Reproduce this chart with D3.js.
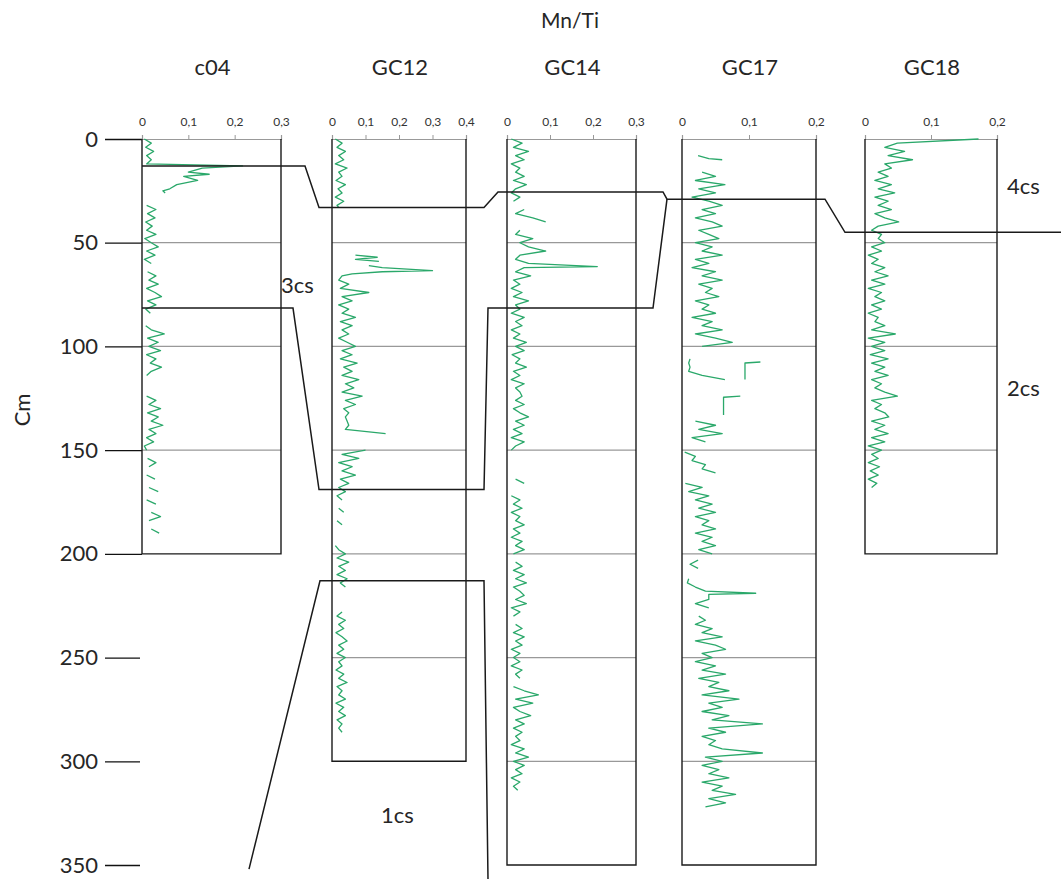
<!DOCTYPE html>
<html><head><meta charset="utf-8">
<script src="https://cdn.jsdelivr.net/npm/d3@7/dist/d3.min.js"></script>
<style>body{margin:0;background:#fff;}svg{display:block;font-family:Lato,"Open Sans",sans-serif;}</style>
</head><body><svg id="c" width="1061" height="879"></svg>
<script>
// ---------------- DATA ----------------
const cores = ["c04", "GC12", "GC14", "GC17", "GC18"];
const coreMaxX = [0.3, 0.4, 0.3, 0.2, 0.2];
const coreDepth = [200, 300, 350, 350, 200];
const coreTicks = [[0,0.1,0.2,0.3],[0,0.1,0.2,0.3,0.4],[0,0.1,0.2,0.3],[0,0.1,0.2],[0,0.1,0.2]];
const depthTicks = [0, 50, 100, 150, 200, 250, 300, 350];

// [depth cm, Mn/Ti]; null value = gap
const c04 = [[0,.005],[2,.02],[4,.008],[6,.025],[8,.01],[10,.02],[12,.01],[13,.217],[14,.13],[16,.1],[17,.145],[18,.09],[20,.12],[22,.075],[24,.06],[25,.045],[26,.05],[27,null],
[32,.01],[34,.03],[36,.012],[38,.028],[40,.008],[42,.022],[44,.01],[46,.03],[48,.006],[50,.02],[52,.035],[54,.01],[56,.028],[58,.005],[60,.02],[62,null],
[64,.012],[66,.03],[68,.015],[70,.035],[72,.01],[74,.028],[76,.042],[78,.012],[80,.03],[82,.008],[84,.018],[85,null],
[90,.008],[92,.02],[94,.048],[96,.012],[98,.035],[100,.015],[102,.04],[104,.01],[106,.03],[108,.018],[110,.042],[112,.02],[114,.01],[115,null],
[124,.01],[126,.03],[128,.015],[130,.04],[132,.012],[134,.035],[136,.02],[138,.045],[140,.015],[142,.03],[144,.01],[146,.025],[148,.005],[150,.01],[151,null],
[154,.012],[156,.03],[158,.015],[159,null],[162,.01],[164,.028],[165,null],[168,.015],[170,.035],[171,null],[174,.01],[176,.03],[177,null],[180,.02],[182,.04],[184,.015],[185,null],[188,.02],[190,.037]];

const GC12 = [[0,.01],[2,.03],[4,.015],[6,.04],[8,.02],[10,.035],[12,.01],[14,.045],[16,.02],[18,.03],[20,.012],[22,.04],[24,.018],[26,.03],[28,.01],[30,.035],[32,.015],[33,.02],[34,null],
[56,.07],[57,.135],[58,.07],[59,.14],[60,null],
[61,.11],[62,.15],[63.5,.3],[64,.15],[65,.06],[66,.03],[68,.02],[70,.05],[72,.025],[74,.11],[76,.03],[78,.06],[80,.02],[82,.05],[84,.03],[86,.07],[88,.025],[90,.06],[92,.03],[94,.05],[96,.02],[98,.045],[100,.07],[102,.03],[104,.06],[106,.025],[108,.075],[110,.035],[112,.06],[114,.03],[116,.08],[118,.04],[120,.065],[122,.03],[124,.09],[126,.04],[128,.07],[130,.035],[132,.05],[134,.04],[136,.045],[138,.05],[140,.04],[142,.16],[143,null],
[150,.1],[152,.03],[154,.08],[156,.02],[158,.06],[160,.03],[162,.07],[164,.025],[166,.05],[168,.02],[170,.04],[172,.015],[174,.03],[175,null],[178,.02],[180,.035],[181,null],[184,.015],[186,.03],[187,null],
[196,.01],[198,.02],[200,.04],[202,.015],[204,.05],[206,.02],[208,.04],[210,.015],[212,.045],[214,.025],[216,.04],[217,null],
[228,.03],[230,.015],[232,.04],[234,.02],[236,.035],[238,.012],[240,.03],[242,.045],[244,.02],[246,.035],[248,.015],[250,.04],[252,.02],[254,.03],[256,.012],[258,.035],[260,.02],[262,.045],[264,.015],[266,.03],[268,.02],[270,.04],[272,.012],[274,.035],[276,.02],[278,.04],[280,.015],[282,.03],[284,.02],[286,.03]];

const GC14 = [[0,.01],[2,.035],[4,.015],[6,.05],[8,.02],[10,.04],[12,.01],[14,.03],[16,.02],[18,.04],[20,.015],[22,.045],[24,.02],[26,.01],[28,.03],[30,.015],[31,null],
[34,.04],[36,.02],[38,.06],[40,.09],[41,null],[44,.03],[46,.02],[48,.06],[50,.03],[52,.05],[54,.09],[56,.03],[58,.02],[60,.05],[61.5,.21],[62,.04],[64,.02],[66,.055],[68,.015],[70,.03],[72,.01],[74,.035],[76,.015],[78,.05],[80,.02],[82,.03],[84,.01],[86,.04],[88,.02],[90,.035],[92,.01],[94,.03],[96,.015],[98,.045],[100,.02],[102,.04],[104,.012],[106,.03],[108,.02],[110,.045],[112,.015],[114,.03],[116,.01],[118,.04],[120,.02],[122,.03],[124,.035],[126,.02],[128,.04],[130,.015],[132,.03],[134,.05],[136,.02],[138,.04],[140,.015],[142,.035],[144,.01],[146,.04],[148,.02],[150,.01],[151,null],
[164,.02],[166,.04],[167,null],[172,.01],[174,.03],[176,.015],[178,.035],[180,.01],[182,.03],[184,.02],[186,.04],[188,.015],[190,.03],[192,.01],[194,.035],[196,.02],[198,.04],[200,.015],[201,null],
[204,.02],[206,.035],[208,.015],[210,.04],[212,.02],[214,.045],[216,.015],[218,.03],[220,.04],[222,.02],[224,.045],[226,.01],[228,.03],[230,.015],[231,null],
[234,.02],[236,.035],[238,.015],[240,.04],[242,.02],[244,.035],[246,.01],[248,.03],[250,.015],[252,.03],[254,.01],[256,.035],[258,.02],[260,.03],[261,null],
[264,.015],[266,.04],[268,.073],[270,.02],[272,.06],[274,.015],[276,.03],[278,.055],[280,.02],[282,.04],[284,.015],[286,.035],[288,.02],[290,.03],[292,.01],[294,.04],[296,.02],[298,.05],[300,.015],[302,.04],[304,.02],[306,.035],[308,.01],[310,.03],[312,.015],[314,.025]];

const GC17 = [[8,.024],[9.5,.04],[10,.06],[11,null],
[16,.03],[18,.05],[20,.02],[22,.064],[24,.025],[26,.05],[28,.015],[30,.04],[32,.06],[34,.03],[36,.05],[38,.02],[40,.045],[42,.06],[44,.025],[46,.04],[48,.055],[50,.02],[52,.045],[54,.03],[56,.06],[58,.02],[60,.04],[62,.015],[64,.05],[66,.03],[68,.06],[70,.025],[72,.045],[74,.035],[76,.055],[78,.02],[80,.04],[82,.03],[84,.05],[86,.015],[88,.045],[90,.03],[92,.06],[94,.02],[96,.05],[98,.075],[100,.03],[101,null],
[106,.012],[108,.01],[110,.012],[112,.01],[114,.03],[116,.064],[117,null],
[107.5,.117],[108,.094],[116,.094],[117,null],
[124,.087],[124.5,.062],[133,.062],[134,null],
[136,.02],[138,.05],[140,.025],[142,.06],[144,.015],[146,.035],[147,null],
[151,.004],[153,.02],[155,.015],[157,.035],[159,.03],[161,.05],[162,null],
[166,.005],[168,.03],[170,.01],[172,.04],[174,.02],[176,.045],[178,.025],[180,.05],[182,.02],[184,.04],[186,.03],[188,.05],[190,.02],[192,.045],[194,.03],[196,.05],[198,.025],[200,.045],[201,null],
[203,.024],[205,.012],[207,.024],[208,null],
[212,.01],[214,.008],[216,.02],[218,.035],[219,.11],[219.5,.04],[222,.04],[224,.02],[226,.04],[227,null],
[230,.025],[232,.035],[234,.02],[236,.045],[238,.03],[240,.06],[242,.02],[244,.05],[246,.065],[248,.03],[250,.045],[252,.02],[254,.05],[256,.03],[258,.065],[260,.025],[262,.055],[264,.04],[266,.07],[268,.03],[270,.085],[272,.04],[274,.06],[276,.03],[278,.07],[280,.045],[282,.12],[284,.04],[286,.065],[288,.03],[290,.05],[292,.04],[294,.06],[296,.12],[298,.035],[300,.06],[302,.03],[304,.055],[306,.04],[308,.07],[310,.03],[312,.06],[314,.045],[316,.08],[318,.04],[320,.065],[322,.035]];

const GC18 = [[0,.172],[2,.049],[4,.03],[6,.06],[8,.035],[10,.072],[12,.03],[14,.04],[16,.02],[18,.035],[20,.015],[22,.04],[24,.02],[26,.045],[28,.015],[30,.035],[32,.02],[34,.04],[36,.015],[38,.03],[40,.051],[42,.02],[44,.01],[46,.025],[48,.02],[50,.03],[52,.01],[54,.025],[56,.005],[58,.02],[60,.01],[62,.03],[64,.015],[66,.035],[68,.01],[70,.03],[72,.005],[74,.025],[76,.015],[78,.03],[80,.01],[82,.025],[84,.005],[86,.02],[88,.015],[90,.03],[92,.01],[94,.046],[96,.005],[98,.03],[100,.01],[102,.03],[104,.008],[106,.035],[108,.01],[110,.03],[112,.015],[114,.035],[116,.01],[118,.025],[120,.015],[122,.03],[124,.049],[126,.01],[128,.025],[130,.015],[132,.03],[134,.036],[136,.01],[138,.03],[140,.015],[142,.035],[144,.01],[146,.03],[148,.005],[150,.025],[152,.01],[154,.02],[156,.005],[158,.022],[160,.008],[162,.02],[164,.005],[166,.018],[168,.01]];

const coreSeries = [c04, GC12, GC14, GC17, GC18];

// correlation horizons: depth (cm) where the horizon meets each core
const horizon4cs = [13, 33, 25.5, 29, 45];     // c04, GC12, GC14, GC17, GC18
const horizon3cs = [81.5, 169, 81.5, 29];      // c04, GC12, GC14, (joins at GC17)
const horizon1cs = [352, 213, 357];            // bottom-left, GC12, bottom-right
const horizonLabels = ["4cs", "3cs", "2cs", "1cs"];

// ---------------- LAYOUT ----------------
const svg = d3.select("#c");
const y = d3.scaleLinear().domain([0, 350]).range([139, 865]);
const panelX0 = [142, 332, 507, 682, 865];
const panelX1 = [281, 466, 636, 816, 997];
const green = "#2aa86a";
const textCol = "#262626";

const panels = cores.map((name, i) => ({
  name, i,
  x: d3.scaleLinear().domain([0, coreMaxX[i]]).range([panelX0[i], panelX1[i]])
}));

// left depth axis
const yAxis = d3.axisLeft(y).tickValues(depthTicks).tickSize(37).tickPadding(7).tickFormat(d3.format("d"));
const gy = svg.append("g").attr("transform", "translate(142,0)").call(yAxis);
gy.select(".domain").remove();
gy.selectAll(".tick line").attr("stroke", "#111").attr("stroke-width", 1.3);
gy.selectAll(".tick text").attr("font-size", 22).attr("fill", textCol).attr("font-family", "Lato,sans-serif");
gy.selectAll(".tick").filter(d => d >= 250).select("line").attr("x1", -2);

svg.append("text").attr("transform", "translate(30,410) rotate(-90)")
  .attr("text-anchor", "middle").attr("font-size", 22).attr("fill", textCol).text("Cm");

svg.append("text").attr("x", 570).attr("y", 28).attr("text-anchor", "middle")
  .attr("font-size", 21).attr("fill", textCol).text("Mn/Ti");

const line = d3.line().defined(d => d[2] !== null);

panels.forEach(p => {
  const g = svg.append("g");
  const x = p.x, i = p.i;
  const yb = y(coreDepth[i]);
  // title
  g.append("text").attr("x", (panelX0[i] + panelX1[i]) / 2 + 1).attr("y", 75)
    .attr("text-anchor", "middle").attr("font-size", 22).attr("fill", textCol).text(p.name);
  // top axis
  const xAxis = d3.axisTop(x).tickValues(coreTicks[i]).tickSize(4).tickPadding(9)
    .tickFormat(d => d === 0 ? "0" : d3.format(".1f")(d).replace(".", ","));
  const ga = g.append("g").attr("transform", `translate(0,${y(0)})`).call(xAxis);
  ga.select(".domain").attr("stroke", "#999").attr("stroke-width", 1.2);
  ga.selectAll(".tick line").attr("stroke", "#999");
  ga.selectAll(".tick text").attr("font-size", 12).attr("fill", "#333").attr("font-family", "Lato,sans-serif");
  // grid lines
  g.selectAll("line.grid").data(depthTicks.filter(d => d > 0 && d < coreDepth[i])).join("line")
    .attr("x1", panelX0[i]).attr("x2", panelX1[i]).attr("y1", d => y(d)).attr("y2", d => y(d))
    .attr("stroke", "#999").attr("stroke-width", 1.2);
  // box sides
  g.append("path").attr("d", `M${panelX0[i]},${y(0)}V${yb}H${panelX1[i]}V${y(0)}`)
    .attr("fill", "none").attr("stroke", "#1a1a1a").attr("stroke-width", 1.4);
  // series
  g.append("path").datum(coreSeries[i].map(d => [x(d[1] ?? 0), y(d[0]), d[1]]))
    .attr("d", line).attr("fill", "none")
    .attr("stroke", green).attr("stroke-width", 1.3).attr("stroke-linejoin", "round");
});

// correlation lines
const X0 = panelX0, X1 = panelX1;
const h4 = [
  [X0[0], horizon4cs[0]], [X1[0] + 24, horizon4cs[0]],
  [X0[1] - 13, horizon4cs[1]], [X1[1] + 18, horizon4cs[1]],
  [X0[2] - 9, horizon4cs[2]], [X1[2] + 27, horizon4cs[2]],
  [X0[3] - 15, horizon4cs[3]], [X1[3] + 9, horizon4cs[3]],
  [X0[4] - 20, horizon4cs[4]], [1061, horizon4cs[4]]
];
const h3 = [
  [X0[0], horizon3cs[0]], [X1[0] + 12, horizon3cs[0]],
  [X0[1] - 13, horizon3cs[1]], [X1[1] + 18, horizon3cs[1]],
  [X0[2] - 19, horizon3cs[2]], [X1[2] + 17, horizon3cs[2]],
  [X0[3] - 15, horizon3cs[3]]
];
const h1 = [
  [249, horizon1cs[0]], [X0[1] - 12, horizon1cs[1]],
  [X1[1] + 18, horizon1cs[1]], [X1[1] + 22, horizon1cs[2]]
];
const cline = d3.line().x(d => d[0]).y(d => y(d[1]));
[h4, h3, h1].forEach(h => {
  svg.append("path").attr("d", cline(h)).attr("fill", "none")
    .attr("stroke", "#1a1a1a").attr("stroke-width", 1.5);
});

const labelPos = [[1007, 194], [281, 293], [1007, 396], [381, 823]];
horizonLabels.forEach((t, k) => {
  svg.append("text").attr("x", labelPos[k][0]).attr("y", labelPos[k][1])
    .attr("font-size", 22).attr("fill", textCol).text(t);
});
</script></body></html>
